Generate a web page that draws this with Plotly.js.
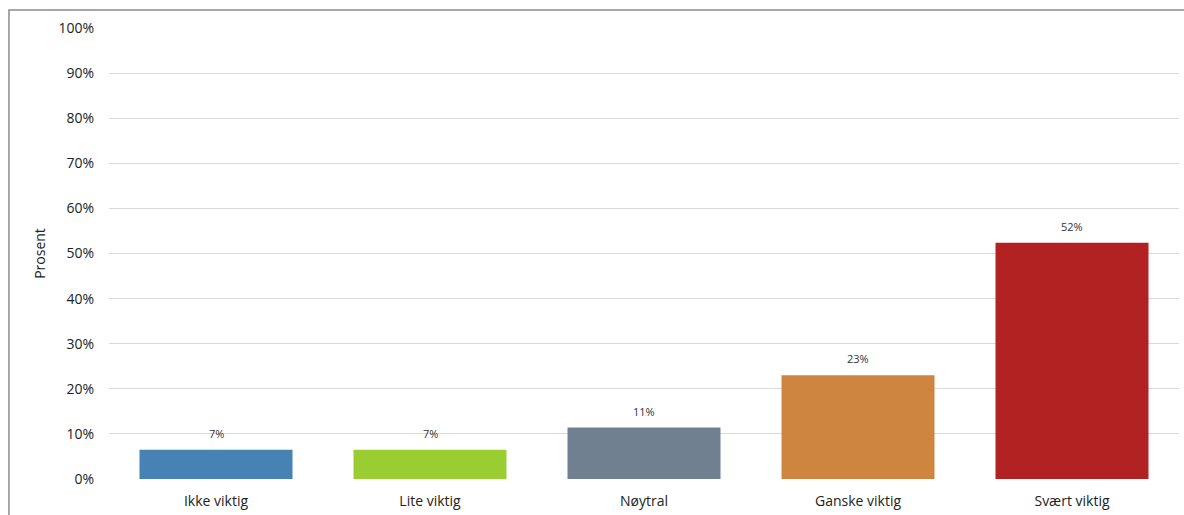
<!DOCTYPE html>
<html>
<head>
<meta charset="utf-8">
<script src="https://cdn.plot.ly/plotly-3.0.1.min.js"></script>
<style>
  html, body { margin: 0; padding: 0; background: #fff; }
  #chart { width: 1184px; height: 515px; }
</style>
</head>
<body>
<div id="chart"></div>
<script>
// Hvor viktig: share of answers per category (percent)
const categories = ['Ikke viktig', 'Lite viktig', 'Nøytral', 'Ganske viktig', 'Svært viktig'];
const values = [6.5, 6.5, 11.4, 23.0, 52.4];
const barColors = ['#4682B4', '#9ACD32', '#708090', '#CD853F', '#B22222'];
const yTickValues = [0, 10, 20, 30, 40, 50, 60, 70, 80, 90, 100];
const yTickLabels = yTickValues.map(v => v + '%');

const fontFamily = '"Open Sans", "Liberation Sans", sans-serif';

const trace = {
  type: 'bar',
  x: categories,
  y: values,
  marker: { color: barColors },
  hoverinfo: 'x+y'
};

// Value labels above each bar, placed at the bar's own value
const valueLabels = categories.map((c, i) => ({
  x: c,
  y: values[i],
  xref: 'x',
  yref: 'y',
  text: Math.round(values[i]) + '%',
  showarrow: false,
  yanchor: 'bottom',
  yshift: 7,
  font: { family: fontFamily, size: 11, color: '#333' }
}));

const layout = {
  width: 1184,
  height: 515,
  margin: { l: 109, r: 5, t: 28, b: 36 },
  paper_bgcolor: '#fff',
  plot_bgcolor: '#fff',
  bargap: 0.285,
  showlegend: false,
  font: { family: fontFamily, color: '#333' },
  xaxis: {
    type: 'category',
    showgrid: false,
    zeroline: false,
    showline: false,
    ticks: '',
    ticklabelstandoff: 12,
    tickfont: { size: 14, color: '#222' }
  },
  yaxis: {
    range: [0, 100],
    tickmode: 'array',
    tickvals: yTickValues,
    ticktext: yTickLabels,
    showgrid: true,
    gridcolor: '#d9d9d9',
    gridwidth: 1,
    zeroline: false,
    showline: false,
    ticks: '',
    ticklabelstandoff: 14,
    tickfont: { size: 14, color: '#222' },
    title: { text: 'Prosent', standoff: 9, font: { size: 14, color: '#222' } }
  },
  annotations: valueLabels,
  shapes: [{
    type: 'rect',
    xref: 'paper', yref: 'paper',
    x0: -0.0935, x1: 1.2, y0: -0.3, y1: 1.04,
    line: { color: '#8c8c8c', width: 1.5 },
    fillcolor: 'rgba(0,0,0,0)',
    layer: 'below'
  }]
};

Plotly.newPlot('chart', [trace], layout, { displayModeBar: false, staticPlot: true });
</script>
</body>
</html>
